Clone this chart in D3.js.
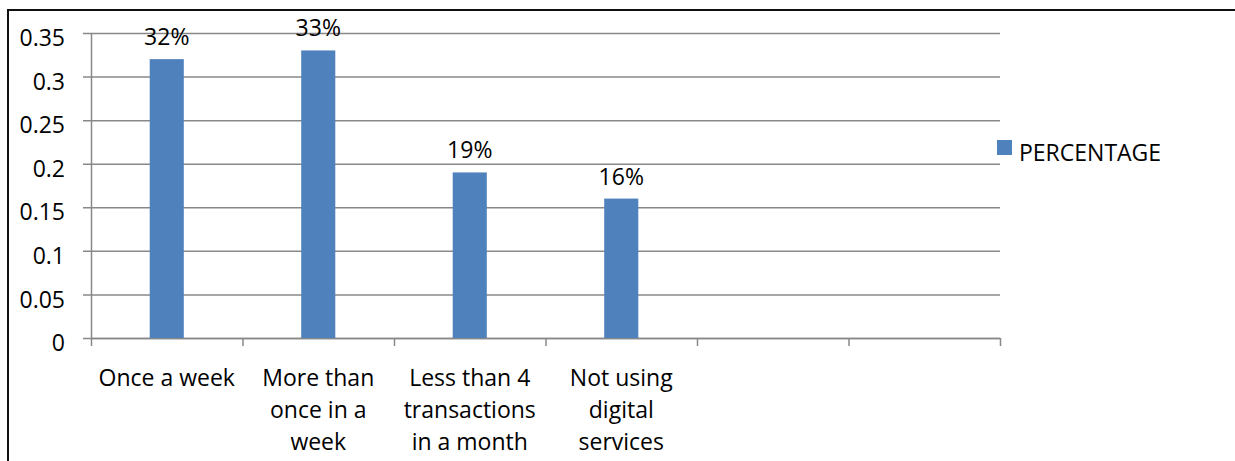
<!DOCTYPE html>
<html>
<head>
<meta charset="utf-8">
<script src="https://cdn.jsdelivr.net/npm/d3@7"></script>
<style>
  html, body { margin: 0; padding: 0; background: #fff; }
  svg { display: block; font-family: "Open Sans", sans-serif; }
</style>
</head>
<body>
<svg id="chart" width="1235" height="461"></svg>
<script>
// Frequency of digital transactions
const categories = [
  "Once a week",
  "More than once in a week",
  "Less than 4 transactions in a month",
  "Not using digital services",
  "",
  ""
];
const percentage = [0.32, 0.33, 0.19, 0.16];
const dataLabels = ["32%", "33%", "19%", "16%"];
const yTicks = [0, 0.05, 0.1, 0.15, 0.2, 0.25, 0.3, 0.35];
const yTickLabels = ["0", "0.05", "0.1", "0.15", "0.2", "0.25", "0.3", "0.35"];
const seriesName = "PERCENTAGE";

const svg = d3.select("#chart");
const W = 1235, H = 461;
const plot = { left: 91, right: 1000, top: 33, bottom: 338 };
const barColor = "#4F81BD";
const gridColor = "#888888";
const fontSize = 23;

// Outer frame (top and left edges fall inside the page)
svg.append("rect")
  .attr("x", 8).attr("y", 10)
  .attr("width", W + 20).attr("height", H + 20)
  .attr("fill", "#fff")
  .attr("stroke", "#111").attr("stroke-width", 2);

const x = d3.scaleBand()
  .domain(d3.range(categories.length))
  .range([plot.left, plot.right])
  .paddingInner(0.775)
  .paddingOuter(0.3875);

const y = d3.scaleLinear()
  .domain([0, 0.35])
  .range([plot.bottom, plot.top]);

// Horizontal gridlines, extended 8px left of the axis as tick marks
const gGrid = svg.append("g")
  .attr("transform", `translate(${plot.right},0)`);
gGrid.call(d3.axisLeft(y)
  .tickValues(yTicks)
  .tickSize(plot.right - plot.left + 8)
  .tickFormat(() => ""));
gGrid.select(".domain").remove();
gGrid.selectAll(".tick line").attr("stroke", gridColor).attr("stroke-width", 1.5);

// Y axis line and tick labels
const gY = svg.append("g").attr("transform", `translate(${plot.left},0)`);
gY.call(d3.axisLeft(y)
  .tickValues(yTicks)
  .tickSize(0)
  .tickPadding(26)
  .tickFormat((d, i) => yTickLabels[i]));
gY.select(".domain").attr("stroke", gridColor).attr("stroke-width", 1.5);
gY.selectAll(".tick text")
  .attr("font-size", fontSize)
  .attr("font-family", "Open Sans, sans-serif")
  .attr("fill", "#000")
  .attr("dy", "0.55em");

// X axis with ticks on category boundaries
const stepW = x.step();
const xEdges = d3.scaleLinear()
  .domain([0, categories.length])
  .range([plot.left, plot.right]);
const gX = svg.append("g").attr("transform", `translate(0,${plot.bottom})`);
gX.call(d3.axisBottom(xEdges)
  .tickValues(d3.range(categories.length + 1))
  .tickSize(8)
  .tickSizeOuter(0)
  .tickFormat(() => ""));
gX.select(".domain").attr("stroke", gridColor).attr("stroke-width", 1.5);
gX.selectAll(".tick line").attr("stroke", gridColor).attr("stroke-width", 1.5);

// Bars
svg.append("g").selectAll("rect")
  .data(percentage)
  .join("rect")
  .attr("x", (d, i) => x(i))
  .attr("y", d => y(d))
  .attr("width", x.bandwidth())
  .attr("height", d => y(0) - y(d))
  .attr("fill", barColor);

// Value labels above bars
svg.append("g").selectAll("text")
  .data(percentage)
  .join("text")
  .attr("x", (d, i) => x(i) + x.bandwidth() / 2)
  .attr("y", d => y(d) - 14)
  .attr("text-anchor", "middle")
  .attr("font-size", fontSize)
  .attr("fill", "#000")
  .text((d, i) => dataLabels[i]);

// Category labels, wrapped to the slot width
const catG = svg.append("g");
categories.forEach((label, i) => {
  if (!label) return;
  const cx = x(i) + x.bandwidth() / 2;
  const t = catG.append("text")
    .attr("text-anchor", "middle")
    .attr("font-size", fontSize)
    .attr("fill", "#000");
  const probe = catG.append("text").attr("font-size", fontSize);
  const lines = [];
  let line = [];
  label.split(" ").forEach(w => {
    probe.text(line.concat(w).join(" "));
    if (probe.node().getComputedTextLength() > stepW - 2 && line.length) {
      lines.push(line.join(" "));
      line = [w];
    } else {
      line.push(w);
    }
  });
  if (line.length) lines.push(line.join(" "));
  probe.remove();
  lines.forEach((ln, k) => {
    t.append("tspan")
      .attr("x", cx)
      .attr("y", plot.bottom + 48 + k * 32)
      .text(ln);
  });
});

// Legend
const leg = svg.append("g");
leg.append("rect")
  .attr("x", 997).attr("y", 140)
  .attr("width", 15).attr("height", 15)
  .attr("fill", barColor);
leg.append("text")
  .attr("x", 1019).attr("y", 161)
  .attr("font-size", fontSize)
  .attr("fill", "#000")
  .text(seriesName);
</script>
</body>
</html>
